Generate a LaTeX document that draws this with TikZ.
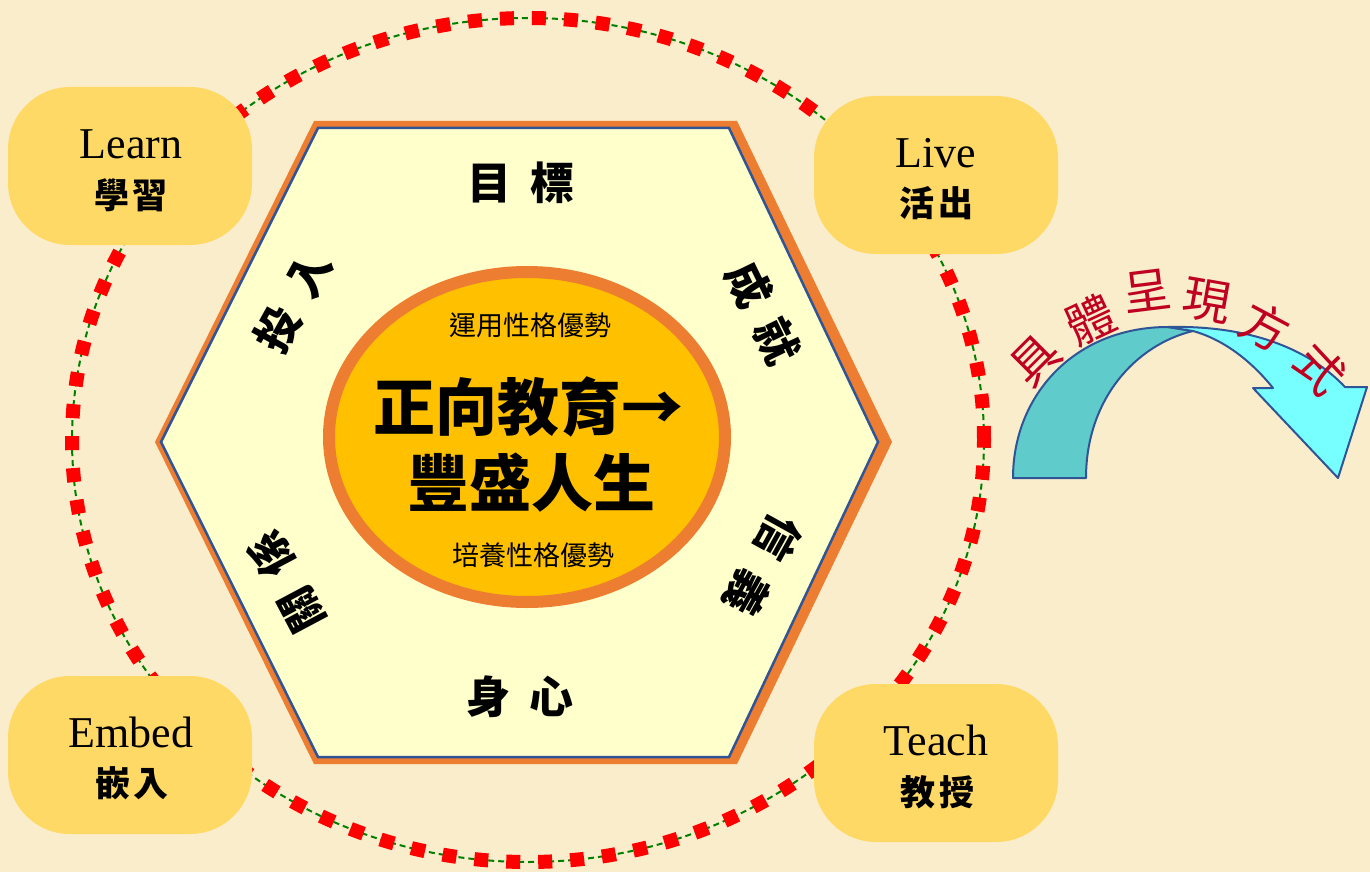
\documentclass[tikz,border=0pt]{standalone}
\usepackage{fontspec}
\newfontfamily\cjk{Noto Sans CJK TC}
\newfontfamily\enserif{Liberation Serif}
\definecolor{bg}{HTML}{FAEDCB}
\definecolor{ringgreen}{HTML}{008000}
\definecolor{ringred}{HTML}{FF0000}
\definecolor{hexorange}{HTML}{ED7D31}
\definecolor{hexblue}{HTML}{2F5597}
\definecolor{hexfill}{HTML}{FFFFCC}
\definecolor{gold}{HTML}{FFC000}
\definecolor{boxfill}{HTML}{FFD966}
\definecolor{arrdark}{HTML}{5FCBCB}
\definecolor{arrlight}{HTML}{77FFFF}
\definecolor{redtext}{HTML}{C00020}
\begin{document}
\begin{tikzpicture}[x=1pt,y=-1pt,
  stagebox/.style={rectangle, rounded corners=62pt, fill=boxfill, draw=none,
    minimum width=244pt, minimum height=158pt, inner sep=0pt},
  entext/.style={anchor=base, inner sep=0pt, font=\enserif\fontsize{44}{44}\selectfont},
  zhtext/.style={inner sep=0pt, font=\cjk\bfseries\fontsize{35}{35}\selectfont},
  hexlabel/.style={inner sep=0pt, font=\cjk\bfseries\fontsize{44}{44}\selectfont},
  smalltext/.style={inner sep=0pt, font=\cjk\fontsize{27}{27}\selectfont},
  bigtext/.style={inner sep=0pt, font=\cjk\bfseries\fontsize{62}{62}\selectfont},
  arctext/.style={inner sep=0pt, text=redtext, font=\cjk\fontsize{48}{48}\selectfont},
  arrowpart/.style={draw=hexblue, line width=2pt, line join=round}]
\fill[bg] (0,0) rectangle (1370,872);
\useasboundingbox (0,0) rectangle (1370,872);

% ring
\draw[ringgreen, line width=2pt, dash pattern=on 6pt off 4pt]
  (528,440) ellipse [x radius=456pt, y radius=422pt];
\draw[ringred, line width=14pt, dash pattern=on 14pt off 18pt]
  (528,440) ellipse [x radius=456pt, y radius=422pt];

% hexagon
\fill[hexorange] (314,121) -- (737,121) -- (892,442) -- (737,764) -- (314,764) -- (155,442) -- cycle;
\filldraw[fill=hexfill, draw=hexblue, line width=2.5pt]
  (318,128) -- (729,128) -- (878,442) -- (729,757) -- (318,757) -- (161,442) -- cycle;

% centre ellipse
\filldraw[fill=gold, draw=hexorange, line width=12pt]
  (527,437) ellipse [x radius=198pt, y radius=165pt];
\node[smalltext] (use1) at (530,325) {運用性格優勢};
\node[bigtext] (main1) at (528,407) {正向教育→};
\node[bigtext] (main2) at (531,483) {豐盛人生};
\node[smalltext] (use2) at (533,555) {培養性格優勢};

% hexagon labels
\node[hexlabel] (goal) at (521,183) {目\hspace{19pt}標};
\node[hexlabel, rotate=61] (engage) at (293,302) {投\hspace{19pt}入};
\node[hexlabel, rotate=-64] (achieve) at (763,313) {成\hspace{19pt}就};
\node[hexlabel, rotate=-119] (meaning) at (763,565) {信\hspace{19pt}義};
\node[hexlabel, rotate=118] (relation) at (286,582) {關\hspace{19pt}係};
\node[hexlabel] (health) at (520,697) {身\hspace{19pt}心};

% stage boxes
\node[stagebox] (learn) at (130,166) {};
\node[stagebox] (live) at (936,175) {};
\node[stagebox] (embed) at (130,755) {};
\node[stagebox] (teach) at (936,763) {};
\node[entext] (learnen) at (131,158) {Learn};
\node[zhtext] (learnzh) at (131,195) {學\hspace{4pt}習};
\node[entext] (liveen) at (936,167) {Live};
\node[zhtext] (livezh) at (936,203) {活\hspace{4pt}出};
\node[entext] (embeden) at (131,747) {Embed};
\node[zhtext] (embedzh) at (132,783) {嵌\hspace{4pt}入};
\node[entext] (teachen) at (936,755) {Teach};
\node[zhtext] (teachzh) at (937,792) {教\hspace{4pt}授};

% curved arrow
\filldraw[arrowpart, fill=arrdark]
  (1013,478) .. controls (1013,395) and (1075,327) .. (1168,327)
  -- (1193,331) .. controls (1135,345) and (1086,400) .. (1086,478) -- cycle;
\filldraw[arrowpart, fill=arrlight]
  (1168,327) .. controls (1255,325) and (1312,352) .. (1345,387)
  -- (1367,387) -- (1338,478) -- (1253,388) -- (1273,388)
  .. controls (1252,362) and (1225,340) .. (1193,331) -- cycle;

% arc text
\node[arctext, rotate=45] (c1) at (1035,360) {具};
\node[arctext, rotate=25] (c2) at (1091,320) {體};
\node[arctext, rotate=7] (c3) at (1147,291) {呈};
\node[arctext, rotate=-10] (c4) at (1207,301) {現};
\node[arctext, rotate=-28] (c5) at (1265,327) {方};
\node[arctext, rotate=-47] (c6) at (1320,369) {式};
\end{tikzpicture}
\end{document}
